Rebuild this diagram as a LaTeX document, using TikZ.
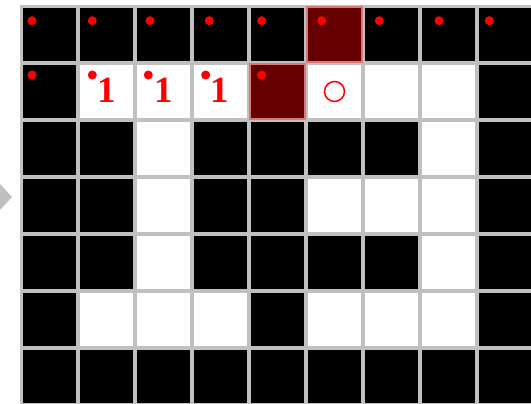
\documentclass[tikz,border=0pt]{standalone}
\usepackage{fontspec}
\setmainfont{Liberation Serif}
\definecolor{gridgray}{HTML}{C0C0C0}
\definecolor{darkred}{HTML}{660000}
\definecolor{lightred}{HTML}{D87878}
\begin{document}
\begin{tikzpicture}[x=1pt,y=-1pt,
  cellbase/.style={rectangle, minimum size=53pt, inner sep=0pt, outer sep=0pt},
  cb/.style={cellbase, fill=black},
  cw/.style={cellbase, fill=white},
  cr/.style={cellbase, minimum size=55pt, fill=darkred, draw=lightred, line width=2.5pt},
  reddot/.style={circle, fill=red, inner sep=0pt, minimum size=9pt},
  num/.style={text=red, inner sep=0pt, font=\fontsize{37}{37}\selectfont\bfseries},
  ring/.style={circle, draw=red, line width=1.5pt, minimum size=20pt, inner sep=0pt}]
\useasboundingbox (0,0) rectangle (531,404);
% pointer triangle
\fill[gridgray] (0,184) -- (12,197) -- (0,210) -- cycle;
% grid background
\fill[gridgray] (20,5) rectangle (531,404);
% cells
\foreach \row [count=\j from 0] in {
  {b,b,b,b,b,r,b,b,b},
  {b,w,w,w,r,w,w,w,b},
  {b,b,w,b,b,b,b,w,b},
  {b,b,w,b,b,w,w,w,b},
  {b,b,w,b,b,b,b,w,b},
  {b,w,w,w,b,w,w,w,b},
  {b,b,b,b,b,b,b,b,b}} {
  \foreach \c [count=\i from 0] in \row {
    \node[c\c] (cell-\j-\i) at ({49.5+57*\i},{34.5+57*\j}) {};
  }
}
% dots, row 1
\foreach \x [count=\k] in {32,92.3,150,209.3,261.7,321.7,379.3,439,489.3}
  \node[reddot] (dota-\k) at (\x,20.7) {};
% dots, row 2
\foreach \x [count=\k] in {32,92.3,148.3,205.7,261.7}
  \node[reddot] (dotb-\k) at (\x,75) {};
% numbers
\node[num] (n1) at (106.5,90.5) {1};
\node[num] (n2) at (163.5,90.5) {1};
\node[num] (n3) at (220,90.5) {1};
% ring
\node[ring] (goal) at (334.5,91.5) {};
\end{tikzpicture}
\end{document}
